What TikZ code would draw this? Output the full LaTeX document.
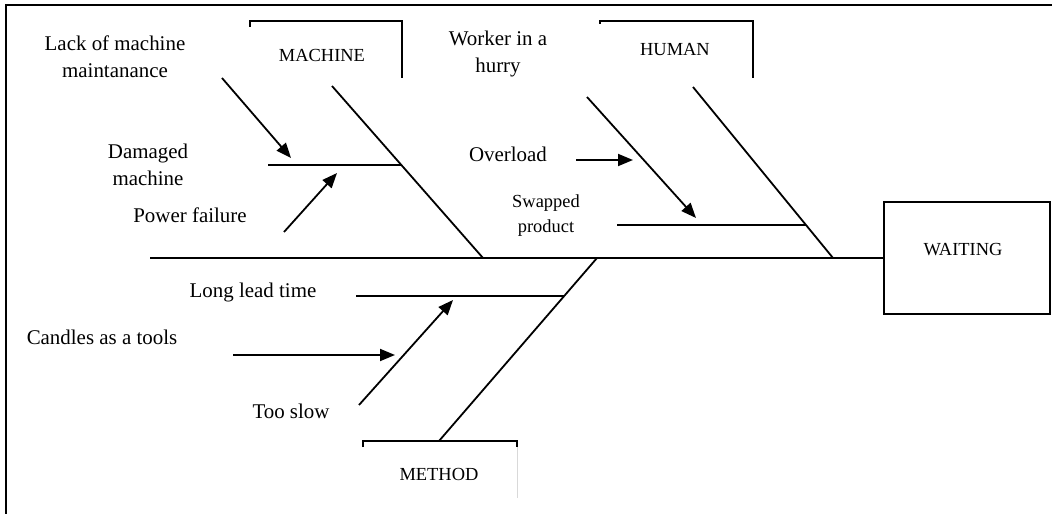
\documentclass[tikz,border=0pt]{standalone}
\usepackage{fontspec}
\setmainfont{Liberation Serif}
\usetikzlibrary{arrows.meta}
\begin{document}
\begin{tikzpicture}[x=1bp,y=-1bp,
  bone/.style={line width=1.8bp},
  causearrow/.style={line width=1.8bp,-{Triangle[length=15bp,width=12bp]}},
  bracket/.style={line width=1.9bp},
  lbl/.style={inner sep=0pt,font=\fontsize{21}{27}\selectfont,align=center},
  smalllbl/.style={inner sep=0pt,font=\fontsize{18.5}{25}\selectfont,align=center},
  cat/.style={inner sep=0pt,font=\fontsize{18.5}{22}\selectfont}]
\useasboundingbox (0,0) rectangle (1052,514);
% frame: top and left edges only
\draw[line width=2.5bp] (6,514) -- (6,5) -- (1052,5);

% effect box and spine
\node[draw,line width=2bp,minimum width=166bp,minimum height=112bp,inner sep=0pt] (head) at (967,258) {};
\node[cat] (headtext) at (963,250) {WAITING};
\coordinate (tail) at (150,258);
\draw[bone] (tail) -- (head.west);

% MACHINE branch
\coordinate (mtop) at (332,86);
\coordinate (mfoot) at (483,258);
\draw[bone] (mtop) -- (mfoot);
\coordinate (msubL) at (268,165);
\coordinate (msubR) at (401,165);
\draw[bone] (msubL) -- (msubR);
\coordinate (a1s) at (222,78);
\coordinate (a1e) at (291,158);
\draw[causearrow] (a1s) -- (a1e);
\coordinate (a2s) at (284,232);
\coordinate (a2e) at (337,173);
\draw[causearrow] (a2s) -- (a2e);
\draw[bracket] (250,27) -- (250,20.7) -- (402,20.7) -- (402,78);
\node[cat] (machine) at (322,55) {MACHINE};
\node[lbl] (lack) at (115,56.5) {Lack of machine\\maintanance};
\node[lbl] (damaged) at (148,165) {Damaged\\machine};
\node[lbl] (power) at (190,215) {Power failure};

% HUMAN branch
\coordinate (htop) at (693,87);
\coordinate (hfoot) at (833,258);
\draw[bone] (htop) -- (hfoot);
\coordinate (hsubL) at (617,225);
\coordinate (hsubR) at (806,225);
\draw[bone] (hsubL) -- (hsubR);
\coordinate (h1s) at (587,97);
\coordinate (h1e) at (696,218);
\draw[causearrow] (h1s) -- (h1e);
\coordinate (h2s) at (576,160);
\coordinate (h2e) at (633,160);
\draw[causearrow] (h2s) -- (h2e);
\draw[bracket] (600,24) -- (600,20.7) -- (753,20.7) -- (753,78);
\node[cat] (human) at (675,50) {HUMAN};
\node[lbl] (worker) at (498,54) {Worker in a\\hurry};
\node[lbl] (overload) at (508,154) {Overload};
\node[smalllbl] (swapped) at (546,216) {Swapped\\product};

% METHOD branch
\coordinate (mebot) at (439,441);
\coordinate (metop) at (597,258);
\draw[bone] (mebot) -- (metop);
\coordinate (mesubL) at (356,296);
\coordinate (mesubR) at (564,296);
\draw[bone] (mesubL) -- (mesubR);
\coordinate (t1s) at (359,405);
\coordinate (t1e) at (453,300);
\draw[causearrow] (t1s) -- (t1e);
\coordinate (c1s) at (233,355);
\coordinate (c1e) at (395,355);
\draw[causearrow] (c1s) -- (c1e);
\draw[bracket] (363,447) -- (363,441) -- (517,441) -- (517,447);
\draw[black!15,line width=1bp] (517,447) -- (517,498);
\node[cat] (method) at (439,474) {METHOD};
\node[lbl] (longlead) at (253,293) {Long lead time};
\node[lbl] (candles) at (102,337) {Candles as a tools};
\node[lbl] (tooslow) at (291,411) {Too slow};
\end{tikzpicture}
\end{document}
